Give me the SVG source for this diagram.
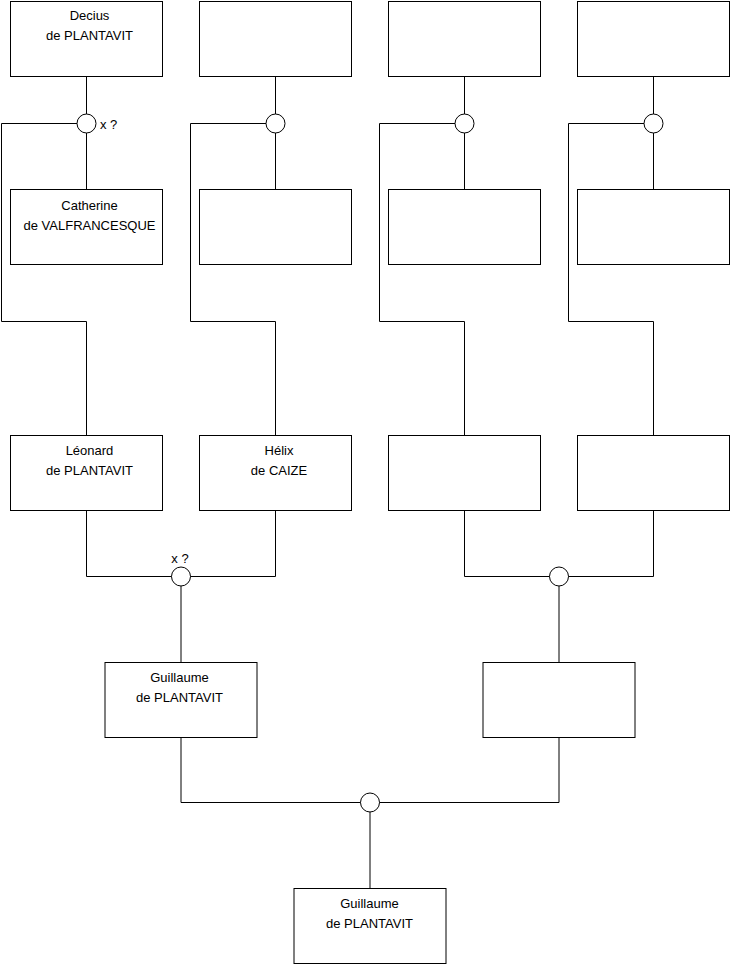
<svg xmlns="http://www.w3.org/2000/svg" width="740" height="975" viewBox="0 0 740 975">
<style>
.box{fill:#fff;stroke:#000;stroke-width:1}
.ln{fill:none;stroke:#000;stroke-width:1}
.c{fill:#fff;stroke:#000;stroke-width:1}
text{font-family:"Liberation Sans",Arial,sans-serif;font-size:13px;fill:#000}
.m{text-anchor:middle}
</style>
<rect width="740" height="975" fill="#fff"/>
<g id="connectors">
<path class="ln" d="M86.5 76.5V189.5 M1.5 123.5H86.5 M1.5 123.5V321.5H86.5V435.5"/>
<path class="ln" d="M275.5 76.5V189.5 M190.5 123.5H275.5 M190.5 123.5V321.5H275.5V435.5"/>
<path class="ln" d="M464.5 76.5V189.5 M379.5 123.5H464.5 M379.5 123.5V321.5H464.5V435.5"/>
<path class="ln" d="M653.5 76.5V189.5 M568.5 123.5H653.5 M568.5 123.5V321.5H653.5V435.5"/>
<path class="ln" d="M86.5 510.5V576.5H275.5V510.5 M181 576.5V662.5"/>
<path class="ln" d="M464.5 510.5V576.5H653.5V510.5 M559 576.5V662.5"/>
<path class="ln" d="M181 737.5V802.5H559V737.5 M370 802.5V888.5"/>
<circle class="c" cx="86.5" cy="123.5" r="9.5"/>
<circle class="c" cx="275.5" cy="123.5" r="9.5"/>
<circle class="c" cx="464.5" cy="123.5" r="9.5"/>
<circle class="c" cx="653.5" cy="123.5" r="9.5"/>
<circle class="c" cx="181" cy="576.5" r="9.5"/>
<circle class="c" cx="559" cy="576.5" r="9.5"/>
<circle class="c" cx="370" cy="802.5" r="9.5"/>
<text x="100" y="128.5">x ?</text>
<text class="m" x="180" y="562.5">x ?</text>
</g>
<g id="decius"><rect class="box" x="10.5" y="1.5" width="152" height="75"/><text class="m" x="89.5" y="20">Decius</text><text class="m" x="89.5" y="40">de PLANTAVIT</text></g>
<g id="top2"><rect class="box" x="199.5" y="1.5" width="152" height="75"/></g>
<g id="top3"><rect class="box" x="388.5" y="1.5" width="152" height="75"/></g>
<g id="top4"><rect class="box" x="577.5" y="1.5" width="152" height="75"/></g>
<g id="catherine"><rect class="box" x="10.5" y="189.5" width="152" height="75"/><text class="m" x="89.5" y="210">Catherine</text><text class="m" x="89.5" y="230">de VALFRANCESQUE</text></g>
<g id="mid2"><rect class="box" x="199.5" y="189.5" width="152" height="75"/></g>
<g id="mid3"><rect class="box" x="388.5" y="189.5" width="152" height="75"/></g>
<g id="mid4"><rect class="box" x="577.5" y="189.5" width="152" height="75"/></g>
<g id="leonard"><rect class="box" x="10.5" y="435.5" width="152" height="75"/><text class="m" x="89.5" y="455">Léonard</text><text class="m" x="89.5" y="475">de PLANTAVIT</text></g>
<g id="helix"><rect class="box" x="199.5" y="435.5" width="152" height="75"/><text class="m" x="279" y="455">Hélix</text><text class="m" x="279" y="475">de CAIZE</text></g>
<g id="row3c"><rect class="box" x="388.5" y="435.5" width="152" height="75"/></g>
<g id="row3d"><rect class="box" x="577.5" y="435.5" width="152" height="75"/></g>
<g id="guillaume1"><rect class="box" x="105" y="662.5" width="152" height="75"/><text class="m" x="179.5" y="682">Guillaume</text><text class="m" x="179.5" y="702">de PLANTAVIT</text></g>
<g id="right4"><rect class="box" x="483" y="662.5" width="152" height="75"/></g>
<g id="guillaume2"><rect class="box" x="294" y="888.5" width="152" height="75"/><text class="m" x="369.5" y="908">Guillaume</text><text class="m" x="369.5" y="928">de PLANTAVIT</text></g>
</svg>
